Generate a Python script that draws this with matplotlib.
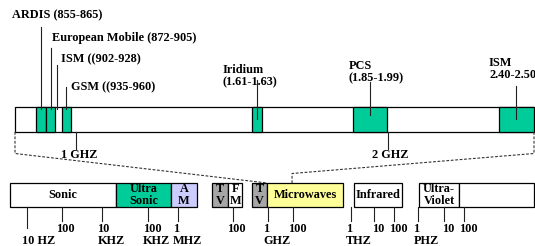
import numpy as np
import matplotlib.pyplot as plt
from matplotlib.patches import Rectangle

# ---- data -------------------------------------------------------------
# upper strip: 800 MHz - 2.5 GHz detail (MHz)
top_names = ['ARDIS (855-865)', 'European Mobile (872-905)', 'ISM ((902-928)',
             'GSM ((935-960)', 'Iridium\n(1.61-1.63)', 'PCS\n(1.85-1.99)',
             'ISM\n2.40-2.50']
top_lo = [855, 872, 902, 935, 1610, 1850, 2400]
top_hi = [865, 905, 928, 960, 1630, 1990, 2500]
top_has_box = [True, True, False, True, True, True, True]
top_tick_mhz = [1000, 2000]
top_tick_labels = ['1 GHZ', '2 GHZ']

# lower strip: whole spectrum, log10(Hz)
bot_names = ['Sonic', 'Ultra\nSonic', 'A\nM', 'T\nV', 'F\nM', 'T\nV',
             'Microwaves', 'Infrared', 'Ultra-\nViolet', '']
bot_lo = [0.5, 4.3, 5.79, 7.24, 7.83, 8.53, 8.97, 12.12, 15.02, 16.74]
bot_hi = [4.3, 5.79, 6.69, 7.83, 8.27, 8.97, 11.86, 14.33, 16.74, 20.5]
bot_colors = ['white', '#00cc99', '#ccccff', '#a6a6a6', 'white', '#a6a6a6',
              '#ffff99', 'white', 'white', 'white']
bot_tick_log = [1, 2, 4, 5, 6, 8, 9, 11, 12, 13, 14, 15, 16, 17]
bot_tick_num = ['', '100', '10', '100', '1', '100', '1', '100', '1', '10',
                '100', '1', '10', '100']
bot_tick_unit = ['10 HZ', '', 'KHZ', 'KHZ', 'MHZ', '', 'GHZ', '', 'THZ', '',
                 '', 'PHZ', '', '']

# ---- schematic scales (the original drawing is not to scale) ----------
top_anchor_mhz = [800, 855, 865, 872, 905, 935, 960, 1000, 1610, 1630, 1850,
                  1990, 2000, 2400, 2500]
top_anchor_px = [15, 35.7, 45.7, 45.7, 55.3, 61.7, 71, 76, 251.7, 262.3,
                 352.7, 387.3, 387.7, 498.7, 534]
bot_anchor_log = [0.5, 1, 2, 4, 5, 6, 8, 9, 11, 12, 13, 14, 15, 16, 17, 20.5]
bot_anchor_px = [10.3, 26.7, 61.7, 102.3, 147.7, 177.7, 232.7, 268.3, 293.3,
                 351.3, 374, 394, 418.3, 444.3, 464.3, 534]


def xtop(f):
    return np.interp(f, top_anchor_mhz, top_anchor_px)


def xbot(lg):
    return np.interp(lg, bot_anchor_log, bot_anchor_px)


# label placement for the upper strip (left x, y centre, pointer top/bottom)
top_label_x = [11.7, 51.7, 61, 71, 222.7, 348.3, 489]
top_label_y = [15.7, 38.3, 59.3, 87.7, 76, 72, 69]
ptr_top = [26.7, 48.3, 65, 87.3, 80, 82.3, 86]
ptr_bot = [109, 109, 108.5, 109, 119, 115, 119]

fnt = dict(family='Liberation Serif', weight='bold', fontsize=8.8)
green = '#00cc99'

fig = plt.figure(figsize=(5.35, 2.46), dpi=100)
ax = fig.add_axes([0, 0, 1, 1])
ax.set_xlim(0, 535)
ax.set_ylim(246, 0)
ax.axis('off')

# upper strip
y0, y1 = 107, 132
ax.add_patch(Rectangle((xtop(800), y0), xtop(2500) - xtop(800), y1 - y0,
                       fc='white', ec='black', lw=0.9))
for i in range(len(top_names)):
    a, b = xtop(top_lo[i]), xtop(top_hi[i])
    if top_has_box[i]:
        ax.add_patch(Rectangle((a, y0), b - a, y1 - y0, fc=green, ec='black',
                               lw=0.9, zorder=2))
    xm = (a + b) / 2
    ax.plot([xm, xm], [ptr_top[i], ptr_bot[i]], color='#222222', lw=0.8, zorder=3)
    ax.text(top_label_x[i], top_label_y[i], top_names[i], ha='left',
            va='center', linespacing=1.0, **fnt)

for f, lab in zip(top_tick_mhz, top_tick_labels):
    x = xtop(f)
    ax.plot([x, x], [y1, 148.5], color='#222222', lw=0.8)
    ax.text(x + 3, 154.5, lab, ha='center', va='center', **fnt)

# lower strip
b0, b1 = 183, 207
for i in range(len(bot_names)):
    a, b = xbot(bot_lo[i]), xbot(bot_hi[i])
    ax.add_patch(Rectangle((a, b0), b - a, b1 - b0, fc=bot_colors[i],
                           ec='black', lw=0.9, zorder=2))
    ax.text((a + b) / 2, (b0 + b1) / 2 + 0.5, bot_names[i], ha='center',
            va='center', linespacing=1.0, zorder=3, **fnt)

for lg, num, unit in zip(bot_tick_log, bot_tick_num, bot_tick_unit):
    x = xbot(lg)
    yend = 228 if unit == '10 HZ' else 221
    ax.plot([x, x], [b1, yend], color='#222222', lw=0.8)
    if unit:
        ax.text(x - 5, 228.5, num, ha='left', va='center', **fnt)
        ax.text(x - 5, 241, unit, ha='left', va='center', **fnt)
    else:
        ax.text(x + 4, 228.5, num, ha='center', va='center', **fnt)

# dashed zoom lines from the upper strip to the microwave region
dash = dict(color='#333333', lw=0.8, ls=(0, (2.5, 1.5)))
ax.plot([xtop(800), xtop(800), xbot(8.97)], [y1, 153.5, b0], **dash)
ax.plot([xtop(2500), xtop(2500), xbot(10.9), xbot(10.9)],
        [y1, 153.5, 173.5, b0], **dash)

fig.savefig('out.png', dpi=100)
